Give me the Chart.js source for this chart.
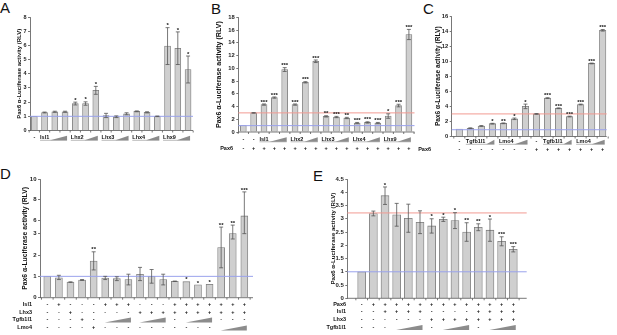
<!DOCTYPE html>
<html>
<head>
<meta charset="utf-8">
<script src="https://cdn.jsdelivr.net/npm/chart.js@4.4.1/dist/chart.umd.min.js"></script>
<style>
  body { margin: 0; background: #fff; }
  #fig { position: relative; width: 617px; height: 335px; overflow: hidden; font-family: "Liberation Sans", Arial, sans-serif; }
  canvas { position: absolute; }
  .letter { position: absolute; font-size: 15px; line-height: 15px; color: #111; }
</style>
</head>
<body>
<div id="fig">
  <div class="letter" style="left:0px;top:0px">A</div>
  <div class="letter" style="left:211px;top:1px">B</div>
  <div class="letter" style="left:423px;top:1px">C</div>
  <div class="letter" style="left:0px;top:166px">D</div>
  <div class="letter" style="left:313px;top:168px">E</div>
  <canvas id="cA" width="200" height="160" style="left:0;top:0"></canvas>
  <canvas id="cB" width="215" height="160" style="left:200px;top:0"></canvas>
  <canvas id="cC" width="202" height="160" style="left:415px;top:0"></canvas>
  <canvas id="cD" width="300" height="170" style="left:0;top:165px"></canvas>
  <canvas id="cE" width="317" height="170" style="left:300px;top:165px"></canvas>
</div>
<script>
const FONT = '"Liberation Sans", Arial, sans-serif';
const yTitle = 'Pax6 α-Luciferase activity (RLV)';

// ---- panel A
const groupsA = ['-', 'Isl1', 'Lhx2', 'Lhx3', 'Lhx4', 'Lhx9'];
const groupSizeA = [1, 3, 3, 3, 3, 3];
const valsA = [1.0, 1.27, 1.32, 1.32, 1.9, 1.9, 2.83, 1.06, 0.97, 1.18, 1.35, 1.28, 1.0, 5.95, 5.8, 4.3];
const errA = [0, 0.03, 0.04, 0.04, 0.1, 0.12, 0.28, 0.15, 0.06, 0.07, 0.03, 0.04, 0.02, 1.3, 1.15, 0.95];
const starsA = ['', '', '', '', '*', '*', '*', '', '', '', '', '', '', '*', '*', '*'];
const ticksA = [0, 1, 2, 3, 4, 5, 6, 7, 8];

// ---- panel B
const groupsB = ['-', '-', 'Isl1', 'Lhx2', 'Lhx3', 'Lhx4', 'Lhx9'];
const groupSizeB = [1, 1, 3, 3, 3, 3, 3];
const pax6B = ['-', '+', '+', '+', '+', '+', '+', '+', '+', '+', '+', '+', '+', '+', '+', '+', '+'];
const valsB = [1.0, 3.0, 4.3, 5.4, 9.8, 4.3, 7.8, 11.1, 2.45, 2.35, 2.2, 1.4, 1.5, 1.4, 2.5, 4.15, 15.3];
const errB = [0, 0.05, 0.1, 0.1, 0.3, 0.1, 0.1, 0.2, 0.1, 0.1, 0.1, 0.1, 0.1, 0.1, 0.35, 0.2, 0.8];
const starsB = ['', '', '***', '***', '***', '***', '***', '***', '**', '***', '**', '***', '***', '***', '*', '***', '***'];
const ticksB = [0, 2, 4, 6, 8, 10, 12, 14, 16, 18];

// ---- panel C
const groupsC = ['-', 'Tgfb1l1', 'Lmo4', '-', 'Tgfb1l1', 'Lmo4'];
const groupSizeC = [1, 3, 3, 1, 3, 3];
const pax6C = ['-', '-', '-', '-', '-', '-', '-', '+', '+', '+', '+', '+', '+', '+'];
const valsC = [1.0, 1.1, 1.4, 1.7, 1.75, 2.35, 4.0, 3.0, 5.1, 3.75, 2.65, 4.25, 9.7, 14.1];
const errC = [0, 0.05, 0.05, 0.05, 0.05, 0.1, 0.3, 0.05, 0.05, 0.05, 0.05, 0.05, 0.05, 0.1];
const starsC = ['', '', '', '*', '**', '*', '*', '', '***', '***', '***', '***', '***', '***'];
const ticksC = [0, 2, 4, 6, 8, 10, 12, 14, 16];

// ---- panel D (broken axis: 0-3 below, upper part from the break)
const isl1D = ['-', '+', '-', '-', '-', '+', '+', '+', '-', '-', '-', '+', '+', '+', '+', '+', '+', '+'];
const lhx3D = ['-', '-', '+', '-', '-', '-', '-', '-', '+', '+', '+', '+', '+', '+', '+', '+', '+', '+'];
const tgfD = ['-', '-', '-', '+', '-', 1, 2, 3, 1, 2, 3, '-', 1, 2, 3, '-', '-', '-'];
const lmo4D = ['-', '-', '-', '-', '+', '-', '-', '-', '-', '-', '-', '-', '-', '-', '-', 1, 2, 3];
const valsD = [1.0, 0.93, 0.73, 0.83, 1.72, 0.92, 0.89, 0.85, 1.1, 1.0, 0.85, 0.77, 0.75, 0.6, 0.63, 2.35, 4.75, 6.45];
const loD = [1.0, 0.85, 0.72, 0.81, 1.3, 0.85, 0.8, 0.6, 0.8, 0.68, 0.6, 0.76, 0.75, 0.6, 0.63, 1.4, 2.75, 4.75];
const hiD = [1.0, 1.05, 0.74, 0.85, 2.15, 1.0, 0.98, 1.1, 1.42, 1.32, 1.1, 0.78, 0.75, 0.6, 0.63, 5.38, 5.57, 8.76];
const starsD = ['', '', '', '', '**', '', '', '', '', '', '', '', '*', '*', '*', '**', '**', '***'];
const ticksD = [0, 1, 2, 3, 6, 8, 10];
const brkD = { low: 3, ref: 6, refPos: 3.61, slope: 0.4875 };
const dispD = v => v <= brkD.low ? v : brkD.refPos + (v - brkD.ref) * brkD.slope;

// ---- panel E
const pax6E = ['-', '+', '+', '+', '+', '+', '+', '+', '+', '+', '+', '+', '+', '+'];
const isl1E = ['-', '-', '+', '+', '+', '+', '-', '-', '-', '-', '+', '+', '+', '+'];
const lhx3E = ['-', '-', '-', '-', '-', '-', '+', '+', '+', '+', '+', '+', '+', '+'];
const tgfE = ['-', '-', '-', 1, 2, 3, '-', 1, 2, 3, '-', 1, 2, 3];
const valsE = [1.0, 3.2, 3.87, 3.15, 3.02, 2.87, 2.73, 2.98, 2.93, 2.5, 2.68, 2.57, 2.15, 1.85];
const errE = [0, 0.09, 0.33, 0.43, 0.53, 0.43, 0.27, 0.08, 0.3, 0.35, 0.13, 0.42, 0.17, 0.1];
const starsE = ['', '', '*', '', '', '', '*', '*', '*', '**', '**', '*', '***', '***'];
const ticksE = [0, 0.5, 1, 1.5, 2, 2.5, 3, 3.5, 4, 4.5];

const RED = '#f29a92', BLUE = '#9aa2ec';
const extras = {};

function wedge(ctx, x0, x1, base, h) {
  ctx.fillStyle = '#8c8c8c';
  ctx.beginPath();
  ctx.moveTo(x0, base); ctx.lineTo(x1, base); ctx.lineTo(x1, base - h); ctx.closePath();
  ctx.fill();
}

const annot = {
  id: 'annot',
  afterDatasetsDraw(chart) {
    const p = extras[chart.canvas.id];
    const ctx = chart.ctx, xs = chart.scales.x, ys = chart.scales.y, a = chart.chartArea;
    const n = p.vals.length;
    const py = v => ys.getPixelForValue(p.disp(v));
    ctx.save();

    // reference lines
    p.refs.forEach(r => {
      ctx.strokeStyle = r.color; ctx.lineWidth = 1;
      ctx.beginPath(); ctx.moveTo(a.left, py(r.v)); ctx.lineTo(a.right, py(r.v)); ctx.stroke();
    });

    // x axis line with small ticks between bars
    ctx.strokeStyle = '#555'; ctx.lineWidth = 0.8;
    ctx.beginPath();
    ctx.moveTo(a.left, a.bottom); ctx.lineTo(a.right, a.bottom);
    for (let i = 0; i <= n; i++) {
      const x = xs.getPixelForValue(i + 0.5);
      ctx.moveTo(x, a.bottom); ctx.lineTo(x, a.bottom + 2);
    }
    ctx.stroke();

    // error bars + stars
    ctx.strokeStyle = '#555'; ctx.lineWidth = 0.8;
    ctx.fillStyle = '#111';
    ctx.font = `bold 6px ${FONT}`;
    ctx.textAlign = 'center'; ctx.textBaseline = 'bottom';
    for (let i = 0; i < n; i++) {
      const x = xs.getPixelForValue(i + 1);
      const lo = p.lo[i], hi = p.hi[i];
      if (hi - lo > 0.001) {
        const y0 = py(lo), y1 = py(hi);
        ctx.beginPath();
        ctx.moveTo(x, y0); ctx.lineTo(x, y1);
        ctx.moveTo(x - 2, y0); ctx.lineTo(x + 2, y0);
        ctx.moveTo(x - 2, y1); ctx.lineTo(x + 2, y1);
        ctx.stroke();
      }
      if (p.stars[i]) ctx.fillText(p.stars[i], x, py(Math.max(hi, p.vals[i])) + 1);
    }

    ctx.textBaseline = 'middle';
    ctx.font = `bold 5.5px ${FONT}`;
    // grouped labels with dose wedges (A, B, C)
    if (p.groups) {
      let start = 1;
      p.groups.forEach((g, k) => {
        const size = p.groupSize[k];
        const c0 = xs.getPixelForValue(start), c1 = xs.getPixelForValue(start + size - 1);
        const y = a.bottom + p.groupY;
        ctx.fillStyle = '#111';
        if (size === 1) {
          ctx.textAlign = 'center'; ctx.fillText(g, c0, y);
        } else {
          ctx.textAlign = 'left';
          const tx = c0 - 4.5;
          ctx.fillText(g, tx, y);
          const wx = tx + ctx.measureText(g).width + 1;
          wedge(ctx, wx, c1 + 2, y + 2.8, 4.5);
          ctx.strokeStyle = '#8c8c8c'; ctx.lineWidth = 0.6;
          ctx.beginPath(); ctx.moveTo(tx, y + 2.8); ctx.lineTo(c1 + 2, y + 2.8); ctx.stroke();
        }
        start += size;
      });
    }

    // +/- rows with dose wedges
    p.rows.forEach(r => {
      const y = a.bottom + r.dy;
      ctx.fillStyle = '#111';
      ctx.textAlign = 'right';
      ctx.fillText(r.name, p.nameX, y);
      ctx.textAlign = 'center';
      let i = 0;
      while (i < n) {
        const c = r.cells[i];
        if (typeof c === 'number') {
          let j = i;
          while (j + 1 < n && typeof r.cells[j + 1] === 'number' && r.cells[j + 1] > r.cells[j]) j++;
          wedge(ctx, xs.getPixelForValue(i + 1) - 0.5, xs.getPixelForValue(j + 1) + 2.5, y + 2.8, 5);
          i = j + 1;
        } else {
          ctx.fillStyle = '#111';
          ctx.fillText(c, xs.getPixelForValue(i + 1), y);
          i++;
        }
      }
    });

    // y axis title, sized to its length in the figure
    ctx.font = `bold 10px ${FONT}`;
    const fs = 10 * p.titleLen / ctx.measureText(yTitle).width;
    ctx.font = `bold ${fs}px ${FONT}`;
    ctx.fillStyle = '#111';
    ctx.translate(p.titleX, (a.top + a.bottom) / 2);
    ctx.rotate(-Math.PI / 2);
    ctx.textAlign = 'center';
    ctx.fillText(yTitle, 0, 0);
    ctx.restore();
  }
};

function makePanel(id, p) {
  p.disp = p.disp || (v => v);
  if (p.err) {
    p.lo = p.vals.map((v, i) => v - p.err[i]);
    p.hi = p.vals.map((v, i) => v + p.err[i]);
  }
  p.refs = p.refs || [];
  p.rows = p.rows || [];
  extras[id] = p;
  const canvas = document.getElementById(id);
  const W = canvas.width, H = canvas.height;
  return new Chart(canvas, {
    type: 'bar',
    data: {
      datasets: [{
        data: p.vals.map((v, i) => ({ x: i + 1, y: p.disp(v) })),
        backgroundColor: '#cfcfcf',
        borderColor: '#7b7b7b',
        borderWidth: 0.8,
        borderSkipped: 'start',
        barThickness: p.barW
      }]
    },
    options: {
      responsive: false,
      animation: false,
      events: [],
      layout: { padding: { left: 0, top: p.top, right: W - p.right, bottom: H - p.bottom } },
      plugins: { legend: { display: false }, tooltip: { enabled: false } },
      scales: {
        x: {
          type: 'linear', display: false, offset: false,
          grid: { offset: false },
          min: 1 - (p.first - p.left) / p.step,
          max: 1 + (p.right - p.first) / p.step
        },
        y: {
          min: 0,
          max: p.disp(p.ticks[p.ticks.length - 1]),
          afterFit: s => { s.width = p.left; },
          afterBuildTicks: s => { s.ticks = p.ticks.map(v => ({ value: p.disp(v) })); },
          ticks: {
            callback: (v, i) => String(p.ticks[i]),
            font: { family: FONT, size: p.tickFont, weight: 'bold' },
            color: '#222',
            padding: 1.5
          },
          grid: { drawOnChartArea: false, tickLength: 2, color: '#555', lineWidth: 0.8 },
          border: { color: '#555', width: 0.8 }
        }
      }
    },
    plugins: [annot]
  });
}

makePanel('cA', {
  vals: valsA, err: errA, stars: starsA, ticks: ticksA,
  groups: groupsA, groupSize: groupSizeA, groupY: 7,
  refs: [{ v: 1, color: BLUE }],
  left: 30, right: 193, top: 17, bottom: 130.5, first: 34.3, step: 10.25, barW: 6,
  tickFont: 5.5, titleX: 19.5, titleLen: 90
});

makePanel('cB', {
  vals: valsB, err: errB, stars: starsB, ticks: ticksB,
  groups: groupsB, groupSize: groupSizeB, groupY: 7,
  rows: [{ name: 'Pax6', cells: pax6B, dy: 16 }], nameX: 33,
  refs: [{ v: 3, color: RED }, { v: 1, color: BLUE }],
  left: 38.3, right: 214.5, top: 17.3, bottom: 132, first: 43.3, step: 10.35, barW: 6,
  tickFont: 5.8, titleX: 19, titleLen: 107
});

makePanel('cC', {
  vals: valsC, err: errC, stars: starsC, ticks: ticksC,
  groups: groupsC, groupSize: groupSizeC, groupY: 5,
  rows: [{ name: 'Pax6', cells: pax6C, dy: 13 }], nameX: 16,
  refs: [{ v: 3, color: RED }, { v: 0.9, color: BLUE }],
  left: 36.7, right: 191.7, top: 16, bottom: 136.5, first: 44.3, step: 11.03, barW: 6.5,
  tickFont: 5.8, titleX: 23.3, titleLen: 100
});

makePanel('cD', {
  vals: valsD, lo: loD, hi: hiD, stars: starsD, ticks: ticksD, disp: dispD,
  rows: [
    { name: 'Isl1', cells: isl1D, dy: 7 },
    { name: 'Lhx3', cells: lhx3D, dy: 14.5 },
    { name: 'Tgfb1l1', cells: tgfD, dy: 22 },
    { name: 'Lmo4', cells: lmo4D, dy: 30 }
  ], nameX: 32,
  refs: [{ v: 1, color: BLUE }],
  left: 40, right: 253, top: 14, bottom: 132.7, first: 47.3, step: 11.59, barW: 7,
  tickFont: 6, titleX: 25, titleLen: 103
});

makePanel('cE', {
  vals: valsE, err: errE, stars: starsE, ticks: ticksE,
  rows: [
    { name: 'Pax6', cells: pax6E, dy: 6 },
    { name: 'Isl1', cells: isl1E, dy: 13.5 },
    { name: 'Lhx3', cells: lhx3E, dy: 21 },
    { name: 'Tgfb1l1', cells: tgfE, dy: 29 }
  ], nameX: 46,
  refs: [{ v: 3.22, color: RED }, { v: 1, color: BLUE }],
  left: 47.3, right: 226.7, top: 14, bottom: 133.3, first: 61.7, step: 11.66, barW: 8,
  tickFont: 6, titleX: 33.3, titleLen: 92
});
</script>
</body>
</html>
